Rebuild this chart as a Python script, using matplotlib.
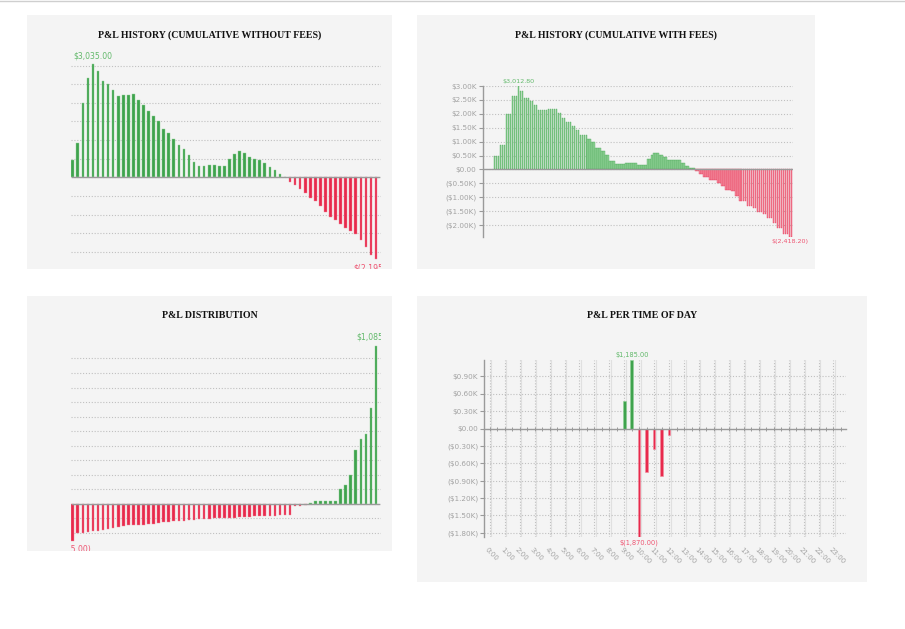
import matplotlib
matplotlib.use('Agg')
import matplotlib.pyplot as plt
from matplotlib.lines import Line2D
import numpy as np

W, H = 905, 629

# ---------------- data ----------------
cum_no_fees = [467, 925, 1993, 2657, 3035, 2846, 2594, 2513, 2352, 2190, 2199, 2208,
               2226, 2073, 1939, 1777, 1661, 1508, 1302, 1194, 1041, 862, 772, 610,
               413, 305, 314, 323, 323, 314, 296, 494, 628, 718, 646, 557, 485, 467,
               386, 287, 197, 90, 0, -116, -205, -304, -429, -554, -625, -777, -938,
               -1054, -1161, -1268, -1366, -1455, -1527, -1688, -1875, -2080, -2195]

cum_fee_levels = [468, 888, 1992, 2628, 3012.8, 2820, 2556, 2472, 2316, 2124, 2136, 2160,
                  2016, 1860, 1704, 1572, 1428, 1236, 1104, 972, 780, 672, 516, 312,
                  192, 216, 168, 360, 504, 600, 516, 432, 336, 240, 132, 36, -72, -168,
                  -288, -384, -492, -612, -756, -792, -972, -1152, -1308, -1368, -1512,
                  -1596, -1752, -1932, -2112, -2316, -2418.2]
cum_fee_counts = [3, 3, 3, 3, 1, 2, 3, 2, 2, 3, 2, 5, 2, 2, 3, 2, 2, 4, 2, 2, 3, 2, 2, 3,
                  5, 6, 5, 2, 1, 3, 2, 2, 7, 2, 2, 3, 2, 2, 3, 4, 2, 2, 3, 2, 2, 4, 3, 2,
                  3, 2, 3, 2, 3, 3, 2]

trade_pnl_sorted = [-255, -202, -200, -195, -189, -186, -179, -175, -166, -161, -154,
                    -149, -149, -149, -147, -143, -143, -136, -129, -124, -122, -120,
                    -117, -115, -113, -108, -103, -103, -101, -101, -101, -99, -97, -94,
                    -92, -90, -87, -87, -85, -83, -83, -80, -80, -76, -16, -14, -9,
                    2, 16, 16, 16, 16, 16, 101, 129, 200, 371, 447, 477, 661, 1085]

tod_hours = [9.0, 9.5, 10.0, 10.5, 11.0, 11.5, 12.0]
tod_pnl = [470, 1185, -1870, -749, -348, -818, -110]
hour_labels = ['%d:00' % h for h in range(24)]

titles = ['P&L HISTORY (CUMULATIVE WITHOUT FEES)', 'P&L HISTORY (CUMULATIVE WITH FEES)',
          'P&L DISTRIBUTION', 'P&L PER TIME OF DAY']

# ---------------- style ----------------
GREEN = '#3fa34d'
RED = '#e8294c'
GREEN_L = '#8fd096'
RED_L = '#f28b9d'
GREEN_T = '#62b96b'
RED_T = '#ee5572'
GRID = '#c0c0c0'
AXC = '#9a9a9a'
TICKC = '#a3a3a3'
BG = '#f4f4f4'


def rect(x0, y0, x1, y1):
    return [x0 / W, 1 - y1 / H, (x1 - x0) / W, (y1 - y0) / H]


def money(v):
    return '${:,.2f}'.format(v) if v >= 0 else '$({:,.2f})'.format(-v)


def kfmt(v):
    if v == 0:
        return '$0.00'
    if v > 0:
        return '${:.2f}K'.format(v / 1000)
    return '(${:.2f}K)'.format(-v / 1000)


fig = plt.figure(figsize=(W / 100, H / 100), dpi=100)
fig.patch.set_facecolor('white')
fig.add_artist(Line2D([0, 1], [1 - 1 / H, 1 - 1 / H], color='#cfcfcf', lw=1))

panels = [(27, 15, 392, 269), (417, 15, 815, 269), (27, 296, 392, 551), (417, 296, 867, 582)]
title_pos = [(210, 35), (616, 35), (210, 316), (642, 316)]
for (x0, y0, x1, y1), t, (tx, ty) in zip(panels, titles, title_pos):
    bg = fig.add_axes(rect(x0, y0, x1, y1))
    bg.set_facecolor(BG)
    bg.set_xticks([]); bg.set_yticks([])
    for s in bg.spines.values():
        s.set_visible(False)
    bg.set_zorder(-5)
    fig.text(tx / W, 1 - ty / H, t, ha='center', va='center', fontsize=7.1,
             fontweight='bold', family='Liberation Serif', color='#111111')


def dotted_grid(ax, axis='y'):
    if axis in ('y', 'both'):
        ax.yaxis.grid(True, color=GRID, linestyle=(0, (1, 1.6)), linewidth=0.8)
    if axis in ('x', 'both'):
        ax.xaxis.grid(True, color=GRID, linestyle=(0, (1, 1.6)), linewidth=0.8)
    ax.set_axisbelow(True)


# ---------------- panel 1 ----------------
ax1 = fig.add_axes(rect(71, 50, 381, 269))
ax1.patch.set_alpha(0)
v1 = np.array(cum_no_fees, dtype=float)
x1 = np.arange(len(v1))
ax1.bar(x1, v1, width=0.52, color=[GREEN if v >= 0 else RED for v in v1],
        edgecolor=[GREEN_L if v >= 0 else RED_L for v in v1], linewidth=0.3)
ax1.set_xlim(-0.34, 60.99)
ax1.set_ylim(-2465, 3422)
ax1.set_yticks(np.arange(-2000, 3001, 500))
ax1.set_xticks([])
ax1.tick_params(length=0, labelleft=False)
dotted_grid(ax1)
ax1.axhline(0, color=AXC, lw=1, xmin=0.003, xmax=0.995)
for s in ax1.spines.values():
    s.set_visible(False)
imax, imin = int(np.argmax(v1)), int(np.argmin(v1))
ax1.annotate(money(v1[imax]), (imax, v1[imax]), xytext=(0, 3), textcoords='offset points',
             ha='center', va='bottom', fontsize=5.6, color=GREEN_T, clip_on=True)
ax1.annotate(money(v1[imin]), (imin, v1[imin]), xytext=(0, -3), textcoords='offset points',
             ha='center', va='top', fontsize=5.6, color=RED_T, clip_on=True)

# ---------------- panel 2 ----------------
ax2 = fig.add_axes(rect(482.7, 85.7, 792.7, 236.7))
ax2.patch.set_alpha(0)
v2 = np.array([lv for lv, c in zip(cum_fee_levels, cum_fee_counts) for _ in range(c)])
x2 = np.arange(len(v2))
ax2.bar(x2, v2, width=0.8, color=[GREEN_L if v >= 0 else RED_L for v in v2],
        edgecolor=[GREEN if v >= 0 else RED for v in v2], linewidth=0.25)
ax2.set_xlim(-6.0, 149.6)
ax2.set_ylim(min(v2), max(v2))
yt2 = np.arange(-2000, 3001, 500)
ax2.set_yticks(yt2)
ax2.set_yticklabels([kfmt(v) for v in yt2])
ax2.set_xticks([])
ax2.tick_params(axis='y', length=3, width=0.8, color=AXC, labelsize=5.2, labelcolor=TICKC, pad=1.5)
dotted_grid(ax2)
ax2.axhline(0, color=AXC, lw=1)
for k in ('top', 'right', 'bottom'):
    ax2.spines[k].set_visible(False)
ax2.spines['left'].set_color(AXC)
ax2.spines['left'].set_linewidth(1)
imax, imin = int(np.argmax(v2)), int(np.argmin(v2))
ax2.annotate(money(v2[imax]), (imax, v2[imax]), xytext=(0, 1.5), textcoords='offset points',
             ha='center', va='bottom', fontsize=4.6, color=GREEN_T, annotation_clip=False)
ax2.annotate(money(v2[imin]), (imin, v2[imin]), xytext=(0, -2), textcoords='offset points',
             ha='center', va='top', fontsize=4.6, color=RED_T, annotation_clip=False)

# ---------------- panel 3 ----------------
ax3 = fig.add_axes(rect(71, 330, 381, 551))
ax3.patch.set_alpha(0)
v3 = np.array(trade_pnl_sorted, dtype=float)
x3 = np.arange(len(v3))
ax3.bar(x3, v3, width=0.52, color=[GREEN if v >= 0 else RED for v in v3],
        edgecolor=[GREEN_L if v >= 0 else RED_L for v in v3], linewidth=0.3)
ax3.set_xlim(-0.34, 60.99)
ax3.set_ylim(-326, 1196)
ax3.set_yticks(np.arange(-200, 1001, 100))
ax3.set_xticks([])
ax3.tick_params(length=0, labelleft=False)
dotted_grid(ax3)
ax3.axhline(0, color=AXC, lw=1, xmin=0.003, xmax=0.995)
for s in ax3.spines.values():
    s.set_visible(False)
imax, imin = int(np.argmax(v3)), int(np.argmin(v3))
ax3.annotate(money(v3[imax]), (imax, v3[imax]), xytext=(0, 3), textcoords='offset points',
             ha='center', va='bottom', fontsize=5.6, color=GREEN_T, clip_on=True)
ax3.annotate(money(v3[imin]), (imin, v3[imin]), xytext=(0, -3), textcoords='offset points',
             ha='center', va='top', fontsize=5.6, color=RED_T, clip_on=True)

# ---------------- panel 4 ----------------
ax4 = fig.add_axes(rect(484.3, 360, 845.7, 536.7))
ax4.patch.set_alpha(0)
v4 = np.array(tod_pnl, dtype=float)
h4 = np.array(tod_hours)
ax4.bar(h4, v4, width=0.17, color=[GREEN if v >= 0 else RED for v in v4],
        edgecolor=[GREEN_L if v >= 0 else RED_L for v in v4], linewidth=0.4)
ax4.set_xlim(-0.37, 23.82)
ax4.set_ylim(min(v4), max(v4))
yt4 = np.arange(-1800, 901, 300)
ax4.set_yticks(yt4)
ax4.set_yticklabels([kfmt(v) for v in yt4])
ax4.tick_params(axis='y', length=3, width=0.8, color=AXC, labelsize=5.2, labelcolor=TICKC, pad=1.5)
ax4.set_xticks(np.arange(24))
ax4.set_xticks(np.arange(0, 24, 0.5), minor=True)
ax4.tick_params(axis='x', which='both', direction='inout', length=2.5, width=0.7,
                color=AXC, labelbottom=False)
# faint solid lines beside the dotted vertical grid
for hx in np.arange(24):
    ax4.axvline(hx + 0.1, color='#e0e0e0', lw=0.8, zorder=0)
dotted_grid(ax4, 'both')
for k in ('top', 'right'):
    ax4.spines[k].set_visible(False)
ax4.spines['left'].set_color(AXC)
ax4.spines['left'].set_linewidth(1)
ax4.spines['bottom'].set_position(('data', 0))
ax4.spines['bottom'].set_color(AXC)
ax4.spines['bottom'].set_linewidth(1)
for hx, lab in zip(range(24), hour_labels):
    ax4.annotate(lab, (hx, 0), xycoords=('data', 'axes fraction'), xytext=(-1, -7),
                 textcoords='offset points', rotation=-45, rotation_mode='anchor',
                 ha='left', va='top', fontsize=5.0, color=TICKC, annotation_clip=False)
imax, imin = int(np.argmax(v4)), int(np.argmin(v4))
ax4.annotate(money(v4[imax]), (h4[imax], v4[imax]), xytext=(0, 1.5), textcoords='offset points',
             ha='center', va='bottom', fontsize=4.8, color=GREEN_T, annotation_clip=False)
ax4.annotate(money(v4[imin]), (h4[imin], v4[imin]), xytext=(0, -2), textcoords='offset points',
             ha='center', va='top', fontsize=4.8, color=RED_T, annotation_clip=False)

fig.savefig('out.png', dpi=100, facecolor='white')
